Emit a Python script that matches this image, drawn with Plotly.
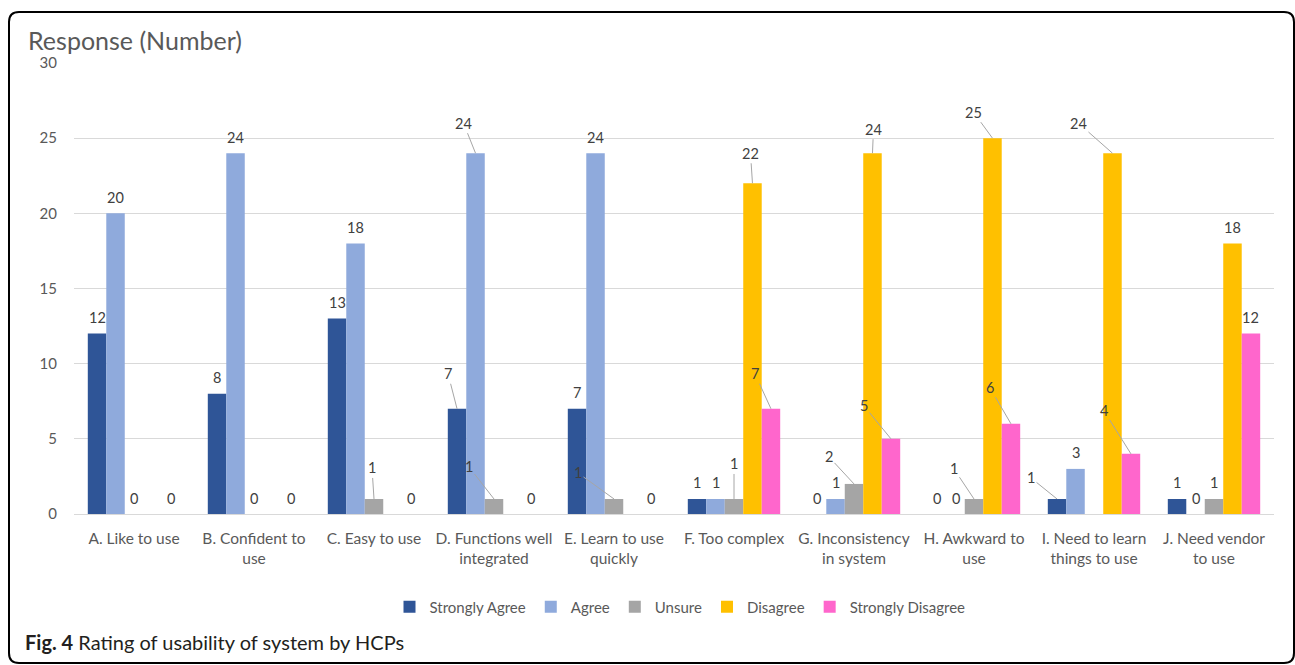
import plotly.graph_objects as go

categories = ["A. Like to use", "B. Confident to<br>use", "C. Easy to use",
              "D. Functions well<br>integrated", "E. Learn to use<br>quickly",
              "F. Too complex", "G. Inconsistency<br>in system", "H. Awkward to<br>use",
              "I. Need to learn<br>things to use", "J. Need vendor<br>to use"]
cat_keys = ["A", "B", "C", "D", "E", "F", "G", "H", "I", "J"]

series_names = ["Strongly Agree", "Agree", "Unsure", "Disagree", "Strongly Disagree"]
strongly_agree = [12, 8, 13, 7, 7, 1, 0, 0, 1, 1]
agree = [20, 24, 18, 24, 24, 1, 1, 0, 3, 0]
unsure = [0, 0, 1, 1, 1, 1, 2, 1, None, 1]
disagree = [None, None, None, None, None, 22, 24, 25, 24, 18]
strongly_disagree = [0, 0, 0, 0, 0, 7, 5, 6, 4, 12]
series_values = [strongly_agree, agree, unsure, disagree, strongly_disagree]

colors = ["#2F5597", "#8FAADC", "#A5A5A5", "#FFC000", "#FF66CC"]

# label placements (pixel offsets of moved labels with leader lines)
leader = {
    (2, "C"): (-2, -31),
    (0, "D"): (-9, -35), (1, "D"): (-12, -30), (2, "D"): (-25, -32),
    (2, "E"): (-36, -26),
    (2, "F"): (0, -35), (3, "F"): (-2, -30), (4, "F"): (-16, -35),
    (2, "G"): (-25, -27), (3, "G"): (1, -24), (4, "G"): (-27, -33),
    (2, "H"): (-20, -30), (3, "H"): (-19, -26), (4, "H"): (-21, -36),
    (0, "I"): (-26, -21), (3, "I"): (-34, -30), (4, "I"): (-27, -43),
}

W, H = 1295, 665
L, R, T, B = 74, 21, 63, 151
pw, ph = W - L - R, H - T - B
bargap = 0.23
nser = len(series_names)
bw = (1 - bargap) / nser

def px(x):
    return (x - L) / pw

def py(y):
    return (H - B - y) / ph

FONT = "Lato"
fig = go.Figure()
xs = list(range(len(categories)))
for k, (name, vals, col) in enumerate(zip(series_names, series_values, colors)):
    fig.add_trace(go.Bar(x=xs, y=vals, name=name, marker=dict(color=col, line=dict(width=0))))

LBL = dict(family=FONT, size=14.5, color="#404040")
annotations = []
for k, vals in enumerate(series_values):
    for i, v in enumerate(vals):
        if v is None:
            continue
        xpos = i + (k - (nser - 1) / 2) * bw
        key = (k, cat_keys[i])
        if key in leader:
            dx, dy = leader[key]
            annotations.append(dict(x=xpos, y=v, xref="x", yref="y", text=str(v),
                                    showarrow=True, ax=dx, ay=dy, arrowhead=0, arrowwidth=1,
                                    arrowcolor="#A6A6A6", standoff=0, startstandoff=0,
                                    font=LBL))
        else:
            annotations.append(dict(x=xpos, y=v, xref="x", yref="y", text=str(v),
                                    showarrow=False, yshift=16, yanchor="middle",
                                    font=LBL))

annotations.append(dict(x=px(26), y=py(40), xref="paper", yref="paper", text="Response (Number)",
                        showarrow=False, xanchor="left", yanchor="middle",
                        font=dict(family=FONT, size=25, color="#595959")))
annotations.append(dict(x=px(23), y=py(642), xref="paper", yref="paper",
                        text="<b>Fig. 4</b> Rating of usability of system by HCPs",
                        showarrow=False, xanchor="left", yanchor="middle",
                        font=dict(family=FONT, size=20, color="#231F20")))

x0, x1, y0, y1 = px(9), px(1294), py(12), py(663)
rx, ry = 10 / pw, 10 / ph
path = (f"M {x0+rx},{y0} L {x1-rx},{y0} Q {x1},{y0} {x1},{y0-ry} "
        f"L {x1},{y1+ry} Q {x1},{y1} {x1-rx},{y1} L {x0+rx},{y1} Q {x0},{y1} {x0},{y1+ry} "
        f"L {x0},{y0-ry} Q {x0},{y0} {x0+rx},{y0} Z")

fig.update_layout(
    width=W, height=H, margin=dict(l=L, r=R, t=T, b=B, autoexpand=False),
    paper_bgcolor="white", plot_bgcolor="white",
    barmode="group", bargap=bargap, bargroupgap=0,
    font=dict(family=FONT, size=14, color="#595959"),
    xaxis=dict(range=[-0.5, len(categories) - 0.5], tickmode="array", tickvals=xs, ticktext=categories,
               showgrid=False, showline=True, linecolor="#D9D9D9", linewidth=1, ticks="",
               ticklabelstandoff=10,
               tickfont=dict(family=FONT, size=15.5, color="#595959"), zeroline=False),
    yaxis=dict(range=[0, 30], dtick=5, showgrid=True, gridcolor="#D9D9D9", gridwidth=1,
               zeroline=False, showline=False, ticks="", ticklabelstandoff=16,
               tickfont=dict(family=FONT, size=15, color="#595959")),
    legend=dict(orientation="h", x=px(680), xanchor="center", y=py(607), yanchor="middle",
                font=dict(family=FONT, size=15, color="#595959"), itemwidth=30,
                traceorder="normal"),
    annotations=annotations,
    shapes=[dict(type="path", path=path, xref="paper", yref="paper",
                 line=dict(color="black", width=2), layer="above")],
)

fig.write_html("out.html")
